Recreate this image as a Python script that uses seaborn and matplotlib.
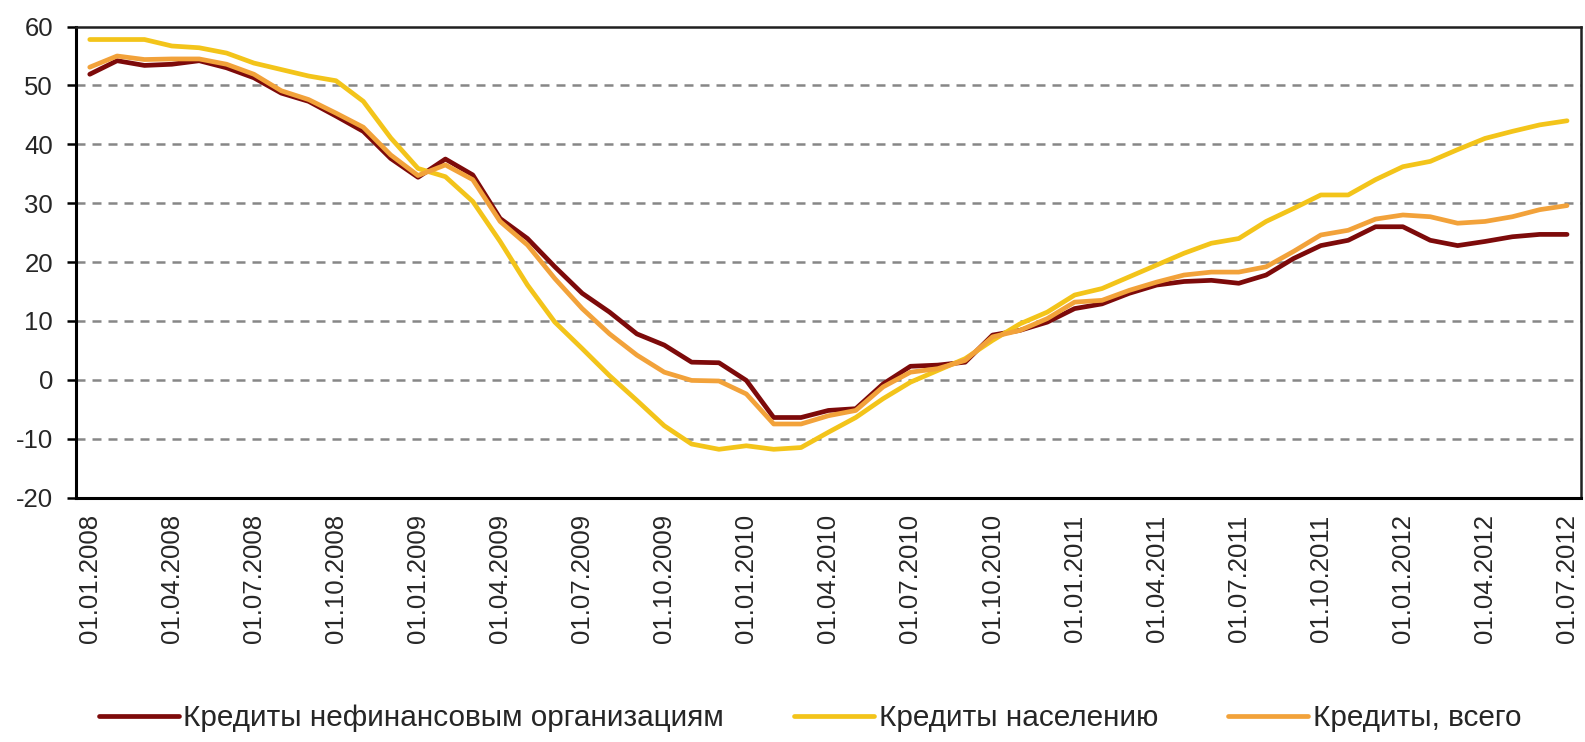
import numpy as np
import pandas as pd
import matplotlib
matplotlib.use("Agg")
import matplotlib.pyplot as plt
import seaborn as sns

# monthly growth rates, %, Jan 2008 .. Jul 2012
months = pd.date_range("2008-01-01", "2012-07-01", freq="MS")
labels = [d.strftime("%d.%m.%Y") for d in months]

nonfin = [51.9, 54.2, 53.4, 53.6, 54.2, 53.0, 51.3, 48.7, 47.3, 44.8, 42.2, 37.6,
          34.4, 37.5, 34.8, 27.4, 24.0, 19.2, 14.7, 11.5, 7.8, 5.9, 3.0, 2.9,
          -0.1, -6.4, -6.4, -5.2, -4.9, -0.7, 2.3, 2.5, 3.0, 7.6, 8.4, 9.8,
          12.1, 12.9, 14.7, 16.1, 16.7, 16.9, 16.4, 17.8, 20.6, 22.8, 23.7, 26.0,
          26.0, 23.7, 22.8, 23.5, 24.3, 24.7, 24.7]
households = [57.8, 57.8, 57.8, 56.7, 56.4, 55.5, 53.8, 52.7, 51.6, 50.8, 47.3, 41.1,
              35.9, 34.5, 30.3, 23.5, 16.1, 9.8, 5.3, 0.7, -3.5, -7.8, -10.9, -11.8,
              -11.2, -11.8, -11.5, -8.9, -6.4, -3.2, -0.4, 1.6, 3.6, 6.7, 9.5, 11.5,
              14.4, 15.5, 17.5, 19.5, 21.5, 23.2, 24.0, 26.9, 29.1, 31.4, 31.4, 34.0,
              36.2, 37.1, 39.1, 41.0, 42.2, 43.3, 44.0]
total = [53.1, 55.0, 54.4, 54.5, 54.5, 53.6, 51.9, 49.1, 47.6, 45.3, 42.9, 38.2,
         34.7, 36.5, 34.0, 26.9, 22.9, 17.2, 12.1, 7.8, 4.2, 1.3, -0.1, -0.2,
         -2.4, -7.5, -7.5, -6.1, -5.2, -1.2, 1.3, 1.9, 3.3, 7.3, 8.4, 10.4,
         13.2, 13.5, 15.2, 16.6, 17.8, 18.3, 18.3, 19.2, 21.8, 24.6, 25.4, 27.3,
         28.0, 27.7, 26.6, 26.9, 27.7, 28.9, 29.6]

series_names = ["Кредиты нефинансовым организациям", "Кредиты населению", "Кредиты, всего"]
colors = ["#7d0a0a", "#f3c41a", "#f2a23a"]

idx = np.arange(len(months))
df = pd.concat([
    pd.DataFrame({"idx": idx, "value": vals, "series": name})
    for name, vals in zip(series_names, [nonfin, households, total])
])

sns.set_style("white")
plt.rcParams["font.family"] = ["Liberation Sans", "DejaVu Sans"]
plt.rcParams["axes.unicode_minus"] = False

fig = plt.figure(figsize=(15.85, 7.42), dpi=100)
ax = fig.add_axes([0.048, 0.3294, 0.9493, 0.6348])

for y in range(-10, 60, 10):
    ax.axhline(y, color="#878787", lw=1.8, linestyle=(0, (3.6, 2.8)), zorder=0)

sns.lineplot(data=df, x="idx", y="value", hue="series", hue_order=series_names,
             palette=dict(zip(series_names, colors)), lw=3.4, ax=ax, legend=False)

ax.set_xlim(-0.5, len(months) - 0.5)
ax.set_ylim(-20, 60)
ax.set_yticks(range(-20, 61, 10))
ax.set_xticks(idx[::3])
ax.set_xticklabels(labels[::3], rotation=90)
ax.set_xticks(np.arange(-0.5, len(months) - 1, 3), minor=True)
ax.set_xlabel("")
ax.set_ylabel("")

ax.tick_params(axis="x", which="major", length=0, pad=12, labelsize=18.5)
ax.tick_params(axis="x", which="minor", direction="inout", length=9, width=1.8, color="black")
ax.tick_params(axis="y", direction="out", length=6.5, width=1.8, color="black",
               pad=10, labelsize=18.5, left=True)

for side in ["left", "bottom"]:
    ax.spines[side].set_color("black")
    ax.spines[side].set_linewidth(2.2)
for side in ["top", "right"]:
    ax.spines[side].set_visible(True)
    ax.spines[side].set_color("#202020")
    ax.spines[side].set_linewidth(1.8)

handles = [plt.Line2D([], [], color=c, lw=3.4) for c in colors]
fig.legend(handles, series_names, loc="center", bbox_to_anchor=(0.511, 0.032),
           ncol=3, frameon=False, fontsize=21.4, handlelength=2.7, handletextpad=0.15,
           columnspacing=2.35)

fig.savefig("out.png", dpi=100)
